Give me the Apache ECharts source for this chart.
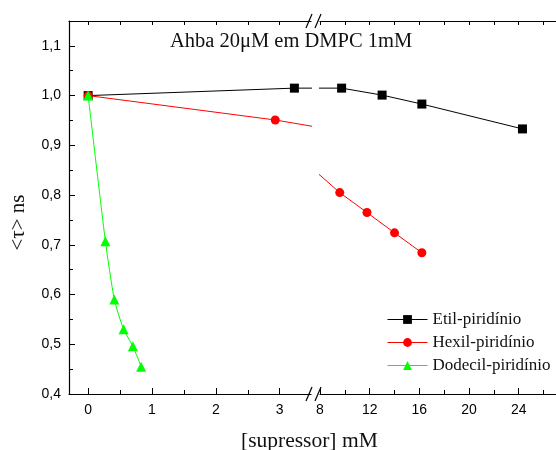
<!DOCTYPE html>
<html>
<head>
<meta charset="utf-8">
<script src="https://cdn.jsdelivr.net/npm/echarts@6/dist/echarts.min.js"></script>
<style>html,body{margin:0;padding:0;background:#fff;}#c{width:556px;height:450px;}</style>
</head>
<body>
<div id="c"></div>
<script>
// ---- data ----
const etilX = [0, 3.23, 9.74, 13.0, 16.2, 24.3];
const etilY = [1.0, 1.015, 1.015, 1.001, 0.983, 0.933];
const hexilX = [0, 2.93, 9.59, 11.78, 14.0, 16.2];
const hexilY = [1.0, 0.951, 0.805, 0.765, 0.724, 0.684];
const dodecilX = [0, 0.27, 0.41, 0.555, 0.70, 0.83];
const dodecilY = [1.0, 0.707, 0.590, 0.530, 0.496, 0.455];
const seriesNames = ['Etil-piridínio', 'Hexil-piridínio', 'Dodecil-piridínio'];
const xLeftTicks = [0, 1, 2, 3];
const xLeftMinor = [0.5, 1.5, 2.5];
const xLeftTop = [0, 0.5, 1, 1.5, 2, 2.5, 3];
const xRightTicks = [8, 12, 16, 20, 24];
const xRightMinor = [10, 14, 18, 22, 26];
const xRightTop = [8, 10, 12, 14, 16, 18, 20, 22, 24, 26];
const yTicks = [0.4, 0.5, 0.6, 0.7, 0.8, 0.9, 1.0, 1.1];
const yMinor = [0.45, 0.55, 0.65, 0.75, 0.85, 0.95, 1.05];
const titleText = 'Ahba 20μM em DMPC 1mM';
const xTitle = '[supressor] mM';
const yTitle = '<τ> ns';

const pairs = (xs, ys) => xs.map((x, i) => [x, ys[i]]);

const serif = 'Liberation Serif';
const sans = 'Liberation Sans';
const lineCol = '#000';

function xAx(grid, min, max, ticks, opts) {
  return Object.assign({
    type: 'value', gridIndex: grid, min: min, max: max, position: 'bottom',
    axisLine: { show: true, onZero: false, lineStyle: { color: lineCol, width: 1.2 } },
    axisTick: { show: true, inside: true, length: 6, customValues: ticks, lineStyle: { color: lineCol } },
    axisLabel: { show: true, customValues: ticks, margin: 9, color: '#000', fontFamily: sans, fontSize: 14 },
    splitLine: { show: false }
  }, opts || {});
}

const chart = echarts.init(document.getElementById('c'), null, { renderer: 'canvas' });

const option = {
  backgroundColor: '#fff',
  animation: false,
  title: [
    { text: titleText, left: 170, top: 31, padding: 0,
      textStyle: { fontFamily: serif, fontSize: 20.5, fontWeight: 'normal', color: '#111' } },
    { text: xTitle, left: 241, top: 430, padding: 0,
      textStyle: { fontFamily: serif, fontSize: 21.5, fontWeight: 'normal', color: '#111' } }
  ],
  grid: [
    { left: 69, top: 21, width: 242, height: 373 },
    { left: 320, top: 21, right: 0, height: 373 }
  ],
  xAxis: [
    xAx(0, -0.3, 3.49, xLeftTicks),
    xAx(0, -0.3, 3.49, xLeftMinor, { axisLine: { show: false, onZero: false }, axisLabel: { show: false },
      axisTick: { show: true, inside: true, length: 4, customValues: xLeftMinor, lineStyle: { color: lineCol } } }),
    xAx(0, -0.3, 3.49, xLeftTop, { position: 'top', axisLabel: { show: false },
      axisTick: { show: true, inside: true, length: 4, customValues: xLeftTop, lineStyle: { color: lineCol } } }),
    xAx(1, 8, 27, xRightTicks),
    xAx(1, 8, 27, xRightMinor, { axisLine: { show: false, onZero: false }, axisLabel: { show: false },
      axisTick: { show: true, inside: true, length: 4, customValues: xRightMinor, lineStyle: { color: lineCol } } }),
    xAx(1, 8, 27, xRightTop, { position: 'top', axisLabel: { show: false },
      axisTick: { show: true, inside: true, length: 4, customValues: xRightTop, lineStyle: { color: lineCol } } })
  ],
  yAxis: [
    { type: 'value', gridIndex: 0, min: 0.4, max: 1.15, position: 'left',
      name: yTitle, nameLocation: 'middle', nameGap: 40,
      nameTextStyle: { fontFamily: serif, fontSize: 21, color: '#111', padding: [0, 30, 0, 0] },
      axisLine: { show: true, onZero: false, lineStyle: { color: lineCol, width: 1.2 } },
      axisTick: { show: true, inside: true, length: 6, customValues: yTicks, lineStyle: { color: lineCol } },
      axisLabel: { show: true, customValues: yTicks, margin: 8, color: '#000', fontFamily: sans, fontSize: 14,
        formatter: v => v.toFixed(1).replace('.', ',') },
      splitLine: { show: false } },
    { type: 'value', gridIndex: 0, min: 0.4, max: 1.15, position: 'left',
      axisLine: { show: false, onZero: false },
      axisTick: { show: true, inside: true, length: 4, customValues: yMinor, lineStyle: { color: lineCol } },
      axisLabel: { show: false }, splitLine: { show: false } },
    { type: 'value', gridIndex: 1, min: 0.4, max: 1.15, show: false, splitLine: { show: false } }
  ],
  legend: {
    orient: 'vertical', left: 382, top: 306, itemWidth: 40, itemHeight: 11, itemGap: 6,
    data: seriesNames,
    lineStyle: { width: 1 },
    textStyle: { fontFamily: serif, fontSize: 17, color: '#111' }
  },
  series: [
    { name: seriesNames[0], type: 'line', xAxisIndex: 0, yAxisIndex: 0, data: pairs(etilX, etilY),
      symbol: 'rect', symbolSize: 9, color: '#000', lineStyle: { width: 1, color: '#000' }, clip: true, z: 3 },
    { name: seriesNames[0], type: 'line', xAxisIndex: 3, yAxisIndex: 2, data: pairs(etilX, etilY),
      symbol: 'rect', symbolSize: 9, color: '#000', lineStyle: { width: 1, color: '#000' }, clip: true, z: 3 },
    { name: seriesNames[1], type: 'line', xAxisIndex: 0, yAxisIndex: 0, data: pairs(hexilX, hexilY),
      symbol: 'circle', symbolSize: 9, color: '#ff0000', lineStyle: { width: 1, color: '#ff0000' }, clip: true, z: 4 },
    { name: seriesNames[1], type: 'line', xAxisIndex: 3, yAxisIndex: 2, data: pairs(hexilX, hexilY),
      symbol: 'circle', symbolSize: 9, color: '#ff0000', lineStyle: { width: 1, color: '#ff0000' }, clip: true, z: 4 },
    { name: seriesNames[2], type: 'line', xAxisIndex: 0, yAxisIndex: 0, data: pairs(dodecilX, dodecilY),
      symbol: 'triangle', symbolSize: 10, color: '#00ff00', smooth: 0.2,
      lineStyle: { width: 1, color: '#00ff00' }, clip: true, z: 5 }
  ],
  graphic: [
    { type: 'line', shape: { x1: 306, y1: 401, x2: 312, y2: 387 }, style: { stroke: '#000', lineWidth: 1.2 }, z: 100 },
    { type: 'line', shape: { x1: 315, y1: 401, x2: 321, y2: 387 }, style: { stroke: '#000', lineWidth: 1.2 }, z: 100 },
    { type: 'line', shape: { x1: 306, y1: 28, x2: 312, y2: 14 }, style: { stroke: '#000', lineWidth: 1.2 }, z: 100 },
    { type: 'line', shape: { x1: 315, y1: 28, x2: 321, y2: 14 }, style: { stroke: '#000', lineWidth: 1.2 }, z: 100 }
  ]
};
chart.setOption(option);
</script>
</body>
</html>
